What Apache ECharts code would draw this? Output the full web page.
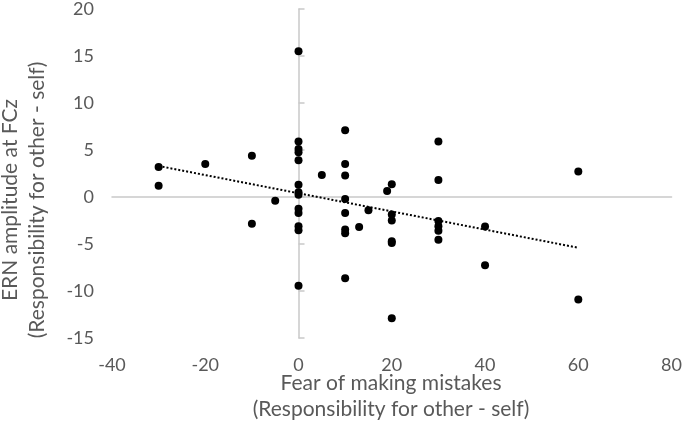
<!DOCTYPE html>
<html>
<head>
<meta charset="utf-8">
<script src="https://cdn.jsdelivr.net/npm/echarts@6/dist/echarts.min.js"></script>
<style>html,body{margin:0;padding:0;background:#fff}#c{width:685px;height:435px}</style>
</head>
<body>
<div id="c"></div>
<script>
// Fear of making mistakes (x) vs ERN amplitude at FCz (y)
var fearX = [-30, -30, -20, -10, -10, -5,
  0, 0, 0, 0, 0, 0, 0, 0, 0, 0, 0, 0, 0,
  5,
  10, 10, 10, 10, 10, 10, 10, 10,
  13, 15, 19,
  20, 20, 20, 20, 20, 20,
  30, 30, 30, 30, 30, 30,
  40, 40, 60, 60];
var ernY = [3.2, 1.2, 3.5, 4.4, -2.85, -0.4,
  15.5, 5.9, 5.1, 4.75, 3.9, 1.3, 0.5, 0.25, -1.25, -1.7, -3.1, -3.55, -9.45,
  2.35,
  7.1, 3.5, 2.3, -0.2, -1.7, -3.45, -3.85, -8.65,
  -3.2, -1.4, 0.65,
  1.35, -1.85, -2.5, -4.7, -4.9, -12.9,
  5.9, 1.8, -2.55, -3.1, -3.6, -4.55,
  -3.15, -7.25, 2.7, -10.9];
var trendX = [-30, 60];
var trendY = [3.3, -5.4];
var xTicks = {min: -40, max: 80, step: 20};
var yTicks = {min: -15, max: 20, step: 5};
var xTitle = ['Fear of making mistakes', '(Responsibility for other - self)'];
var yTitle = ['ERN amplitude at FCz', '(Responsibility for other - self)'];

var points = fearX.map(function (x, i) { return [x, ernY[i]]; });
var trend = trendX.map(function (x, i) { return [x, trendY[i]]; });

var FONT = 'Lato, "Open Sans", sans-serif';
var TXT = '#595959';
var AX = '#c9c9c9';

var chart = echarts.init(document.getElementById('c'), null, {renderer: 'canvas'});
chart.setOption({
  animation: false,
  backgroundColor: '#ffffff',
  grid: {left: 112, right: 10, top: 6, bottom: 97},
  xAxis: [
    {type: 'value', min: xTicks.min, max: xTicks.max, interval: xTicks.step, position: 'bottom',
     axisLine: {show: false, onZero: false}, axisTick: {show: false}, splitLine: {show: false},
     axisLabel: {color: TXT, fontFamily: FONT, fontSize: 18, margin: 18}},
    {type: 'value', min: xTicks.min, max: xTicks.max, interval: xTicks.step,
     axisLine: {show: true, onZero: true, onZeroAxisIndex: 1, lineStyle: {color: AX, width: 1.5}},
     axisTick: {show: false}, axisLabel: {show: false}, splitLine: {show: false}}
  ],
  yAxis: [
    {type: 'value', min: yTicks.min, max: yTicks.max, interval: yTicks.step, position: 'left',
     axisLine: {show: false, onZero: false}, axisTick: {show: false}, splitLine: {show: false},
     axisLabel: {color: TXT, fontFamily: FONT, fontSize: 18, margin: 18}},
    {type: 'value', min: yTicks.min, max: yTicks.max, interval: yTicks.step,
     axisLine: {show: true, onZero: true, onZeroAxisIndex: 1, lineStyle: {color: AX, width: 1.5}},
     axisTick: {show: true, inside: false, length: 6, lineStyle: {color: AX, width: 1.5}},
     axisLabel: {show: false}, splitLine: {show: false}}
  ],
  series: [
    {type: 'line', data: trend, xAxisIndex: 0, yAxisIndex: 0, symbol: 'none', z: 3,
     lineStyle: {color: '#000', width: 2, type: [2, 2]}},
    {type: 'scatter', data: points, xAxisIndex: 0, yAxisIndex: 0, symbol: 'circle', symbolSize: 8, z: 4,
     itemStyle: {color: '#000', opacity: 1}}
  ],
  graphic: [
    {type: 'text', x: 391, y: 396, style: {text: xTitle.join('\n'), font: '21px ' + FONT, fill: TXT,
      textAlign: 'center', textVerticalAlign: 'middle', lineHeight: 26}},
    {type: 'text', x: 24, y: 200, rotation: Math.PI / 2, style: {text: yTitle.join('\n'), font: '21px ' + FONT, fill: TXT,
      textAlign: 'center', textVerticalAlign: 'middle', lineHeight: 27}}
  ]
});
</script>
</body>
</html>
